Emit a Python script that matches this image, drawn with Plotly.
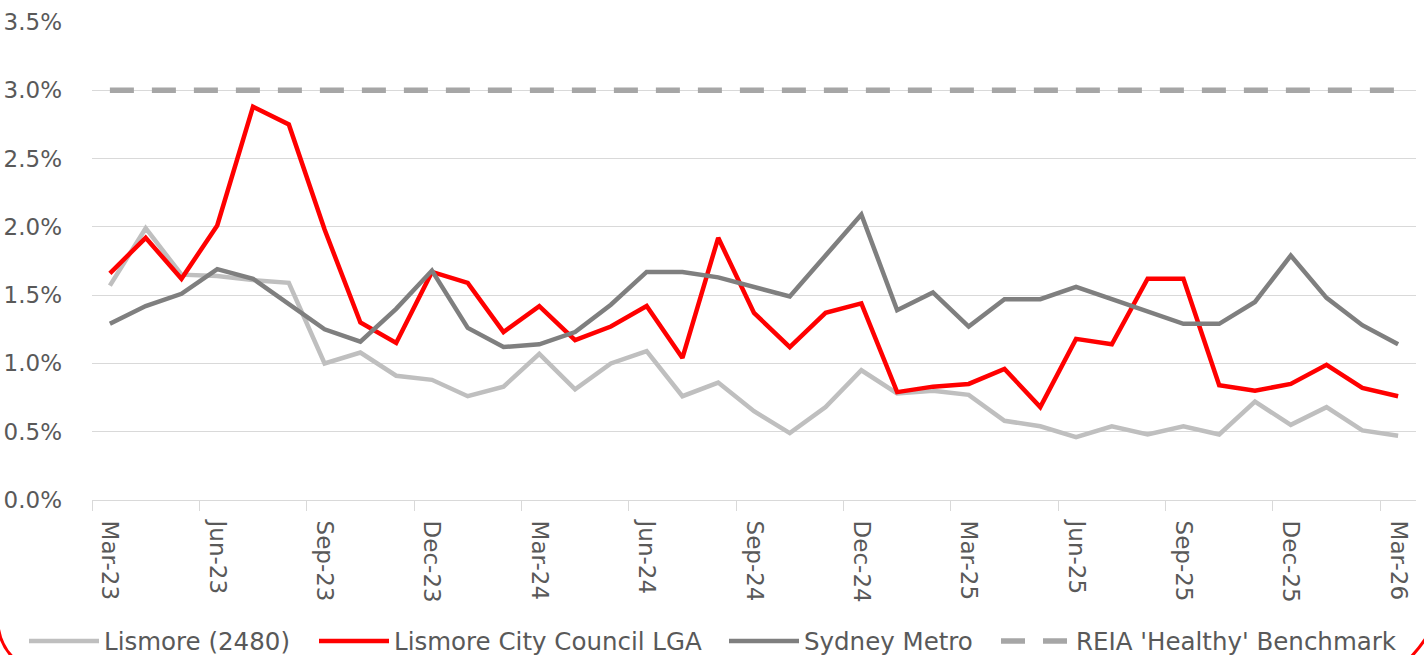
import plotly.graph_objects as go

months = ["Mar-23", "Apr-23", "May-23", "Jun-23", "Jul-23", "Aug-23", "Sep-23", "Oct-23", "Nov-23",
          "Dec-23", "Jan-24", "Feb-24", "Mar-24", "Apr-24", "May-24", "Jun-24", "Jul-24", "Aug-24",
          "Sep-24", "Oct-24", "Nov-24", "Dec-24", "Jan-25", "Feb-25", "Mar-25", "Apr-25", "May-25",
          "Jun-25", "Jul-25", "Aug-25", "Sep-25", "Oct-25", "Nov-25", "Dec-25", "Jan-26", "Feb-26",
          "Mar-26"]

lismore_2480 = [1.57, 1.99, 1.65, 1.64, 1.61, 1.59, 1.00, 1.08, 0.91, 0.88, 0.76, 0.83, 1.07,
                0.81, 1.00, 1.09, 0.76, 0.86, 0.65, 0.49, 0.68, 0.95, 0.78, 0.80, 0.77, 0.58,
                0.54, 0.46, 0.54, 0.48, 0.54, 0.48, 0.72, 0.55, 0.68, 0.51, 0.47]

lismore_lga = [1.66, 1.92, 1.62, 2.01, 2.88, 2.75, 1.98, 1.30, 1.15, 1.67, 1.59, 1.23, 1.42,
               1.17, 1.27, 1.42, 1.04, 1.92, 1.37, 1.12, 1.37, 1.44, 0.79, 0.83, 0.85, 0.96,
               0.68, 1.18, 1.14, 1.62, 1.62, 0.84, 0.80, 0.85, 0.99, 0.82, 0.76]

sydney_metro = [1.29, 1.42, 1.51, 1.69, 1.62, 1.44, 1.25, 1.16, 1.40, 1.68, 1.26, 1.12, 1.14,
                1.23, 1.43, 1.67, 1.67, 1.63, 1.56, 1.49, 1.79, 2.09, 1.39, 1.52, 1.27, 1.47,
                1.47, 1.56, 1.47, 1.38, 1.29, 1.29, 1.45, 1.79, 1.48, 1.28, 1.14]

benchmark = [3.0] * len(months)

series_names = ["Lismore (2480)", "Lismore City Council LGA", "Sydney Metro",
                "REIA 'Healthy' Benchmark"]

FONT = "DejaVu Sans"
FS = 23
LFS = 24.5
TXT = "#595959"
GRID = "#d9d9d9"

W, H = 1424, 655
ML, MR, MT, MB = 92, 8, 22, 155
PW = W - ML - MR
PH = H - MT - MB


def px_to_paper_x(px):
    return (px - ML) / PW


def px_to_paper_y(py):
    return (H - MB - py) / PH


fig = go.Figure()

styles = [
    dict(color="#bfbfbf", width=4.5),
    dict(color="#ff0000", width=4.5),
    dict(color="#7f7f7f", width=4.5),
    dict(color="#a6a6a6", width=5.5, dash="24px,18px"),
]
data = [lismore_2480, lismore_lga, sydney_metro, benchmark]
legends = ["legend", "legend2", "legend3", "legend4"]

for name, vals, st, lg in zip(series_names, data, styles, legends):
    fig.add_trace(go.Scatter(x=months, y=vals, name=name, mode="lines",
                             line=st, legend=lg))

legend_px = [24, 314, 724, 996]
leg_common = dict(orientation="h", yanchor="middle", xanchor="left",
                  font=dict(family=FONT, size=LFS, color=TXT),
                  bgcolor="rgba(0,0,0,0)", itemwidth=70)
leg_y = px_to_paper_y(641)
fig.update_layout(
    legend=dict(x=px_to_paper_x(legend_px[0]), y=leg_y, **leg_common),
    legend2=dict(x=px_to_paper_x(legend_px[1]), y=leg_y, **leg_common),
    legend3=dict(x=px_to_paper_x(legend_px[2]), y=leg_y, **leg_common),
    legend4=dict(x=px_to_paper_x(legend_px[3]), y=leg_y, **leg_common),
)

# decorative red rounded border corners
fig.add_shape(type="path", xref="paper", yref="paper",
              path=(f"M {px_to_paper_x(-2)},{px_to_paper_y(626)} "
                    f"Q {px_to_paper_x(1)},{px_to_paper_y(648)} {px_to_paper_x(16)},{px_to_paper_y(660)}"),
              line=dict(color="#ff0000", width=3))
fig.add_shape(type="path", xref="paper", yref="paper",
              path=(f"M {px_to_paper_x(1426)},{px_to_paper_y(638)} "
                    f"Q {px_to_paper_x(1418)},{px_to_paper_y(650)} {px_to_paper_x(1408)},{px_to_paper_y(660)}"),
              line=dict(color="#ff0000", width=3))

fig.update_layout(
    width=W, height=H,
    margin=dict(l=ML, r=MR, t=MT, b=MB, autoexpand=False),
    paper_bgcolor="white", plot_bgcolor="white",
    font=dict(family=FONT, size=FS, color=TXT),
    showlegend=True,
    xaxis=dict(type="category", range=[-0.5, len(months) - 0.5],
               tickmode="linear", tick0=0, dtick=3, tickson="boundaries",
               ticks="outside", ticklen=10, tickcolor=GRID, tickwidth=1,
               showgrid=False, showline=True, linecolor=GRID, linewidth=1,
               tickangle=90, automargin=False, ticklabelstandoff=15,
               tickfont=dict(family=FONT, size=FS, color=TXT)),
    yaxis=dict(range=[0, 3.5], tickmode="linear", tick0=0, dtick=0.5,
               tickformat=".1f", ticksuffix="%", showgrid=True, gridcolor=GRID,
               gridwidth=1, zeroline=False, showline=False, ticks="",
               automargin=False, ticklabelstandoff=29,
               tickfont=dict(family=FONT, size=FS, color=TXT)),
)

fig.write_html("out.html", config={"displayModeBar": False},
               post_script="document.body.style.margin='0px';document.body.style.overflow='hidden';")
